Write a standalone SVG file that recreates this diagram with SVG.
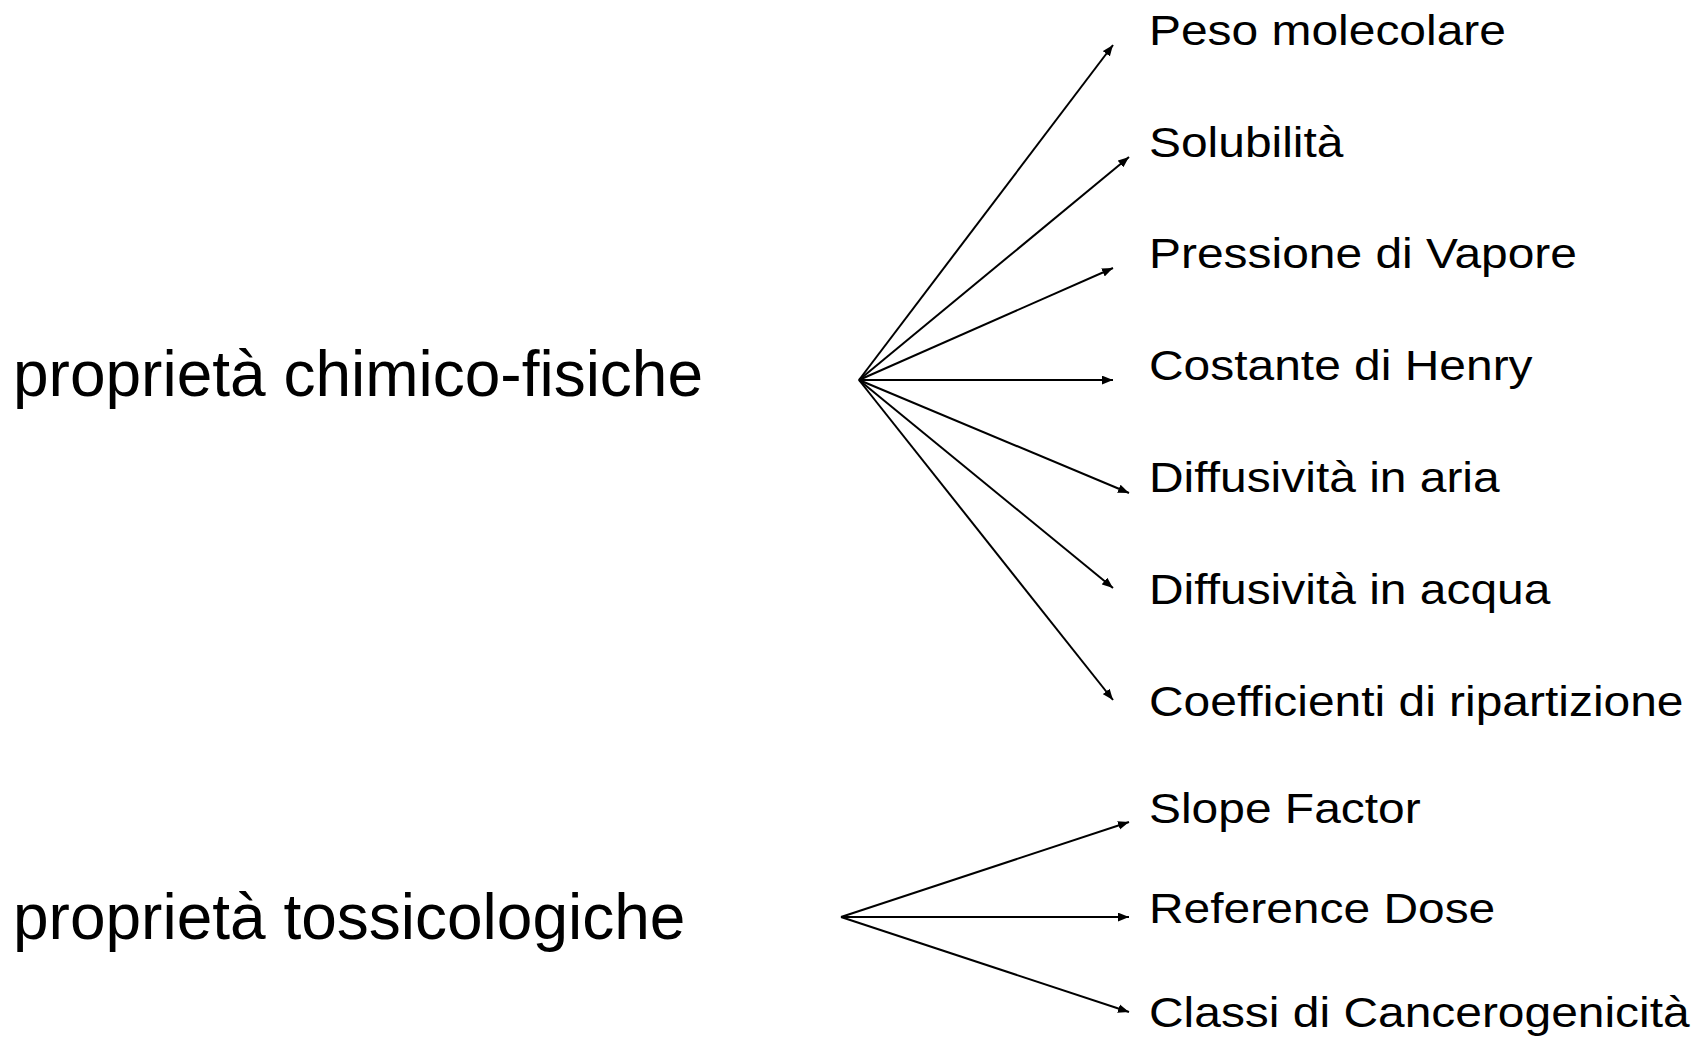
<svg xmlns="http://www.w3.org/2000/svg" width="1700" height="1039" viewBox="0 0 1700 1039">
<style>
.lbl{font-family:"Liberation Sans",Arial,sans-serif;font-size:43px;fill:#000}
.main{font-family:"Liberation Sans",Arial,sans-serif;font-size:64px;fill:#000}
.c line{stroke:#000;stroke-width:2;marker-end:url(#ah)}
</style>
<defs>
<marker id="ah" viewBox="0 0 10 8" refX="10" refY="4" markerWidth="5.5" markerHeight="4.5" orient="auto" markerUnits="strokeWidth">
<path d="M0,0 L10,4 L0,8 Z" fill="#000"/>
</marker>
</defs>
<rect width="1700" height="1039" fill="#fff"/>
<g id="n-chimico"><text class="main" x="13" y="396">proprietà chimico-fisiche</text></g>
<g id="n-tossico"><text class="main" x="13" y="939">proprietà tossicologiche</text></g>
<g id="n-peso"><text class="lbl" transform="translate(1149,45) scale(1.115,1)">Peso molecolare</text></g>
<g id="n-solub"><text class="lbl" transform="translate(1149,157) scale(1.115,1)">Solubilità</text></g>
<g id="n-press"><text class="lbl" transform="translate(1149,268) scale(1.115,1)">Pressione di Vapore</text></g>
<g id="n-henry"><text class="lbl" transform="translate(1149,380) scale(1.115,1)">Costante di Henry</text></g>
<g id="n-diffaria"><text class="lbl" transform="translate(1149,492) scale(1.115,1)">Diffusività in aria</text></g>
<g id="n-diffacqua"><text class="lbl" transform="translate(1149,604) scale(1.115,1)">Diffusività in acqua</text></g>
<g id="n-coeff"><text class="lbl" transform="translate(1149,716) scale(1.115,1)">Coefficienti di ripartizione</text></g>
<g id="n-slope"><text class="lbl" transform="translate(1149,823) scale(1.115,1)">Slope Factor</text></g>
<g id="n-rfd"><text class="lbl" transform="translate(1149,923) scale(1.115,1)">Reference Dose</text></g>
<g id="n-classi"><text class="lbl" transform="translate(1149,1027) scale(1.115,1)">Classi di Cancerogenicità</text></g>
<g id="connectors" class="c">
<line x1="859" y1="380" x2="1113" y2="45"/>
<line x1="859" y1="380" x2="1129" y2="157"/>
<line x1="859" y1="380" x2="1113" y2="268"/>
<line x1="859" y1="380" x2="1113" y2="380"/>
<line x1="859" y1="380" x2="1129" y2="493"/>
<line x1="859" y1="380" x2="1113" y2="588"/>
<line x1="859" y1="380" x2="1113" y2="700"/>
<line x1="841" y1="917" x2="1129" y2="822"/>
<line x1="841" y1="917" x2="1129" y2="917"/>
<line x1="841" y1="917" x2="1129" y2="1012"/>
</g>
</svg>
